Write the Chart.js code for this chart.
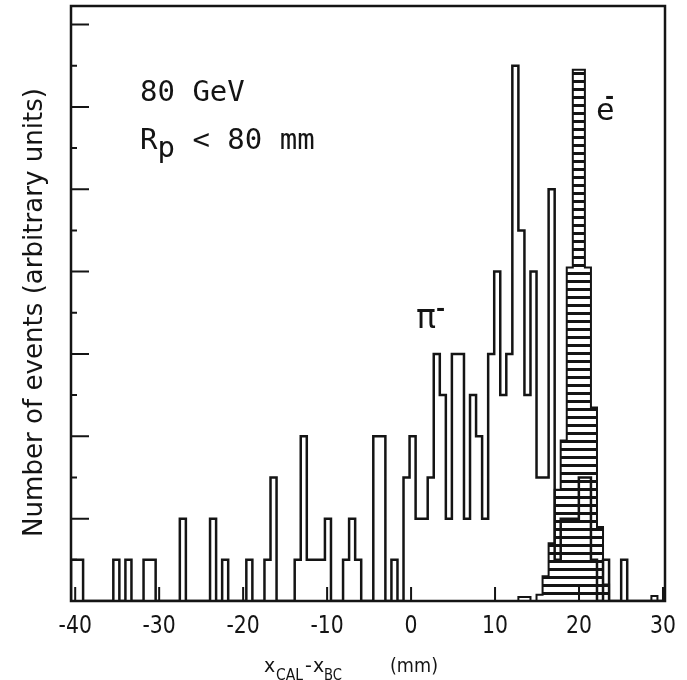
<!DOCTYPE html>
<html>
<head>
<meta charset="utf-8">
<script src="https://cdn.jsdelivr.net/npm/chart.js@4.4.0/dist/chart.umd.min.js"></script>
<style>
  html, body { margin: 0; padding: 0; background: #fff; }
  canvas { display: block; }
</style>
</head>
<body>
<canvas id="posChart" width="687" height="680"></canvas>
<script>
// histogram binning along x_CAL - x_BC (mm)
const binStart = -40.5;
const binWidth = 0.72;

// pi- events per bin
const piCounts = [
  1, 1, 0, 0, 0, 0, 0, 1, 0, 1,
  0, 0, 1, 1, 0, 0, 0, 0, 2, 0,
  0, 0, 0, 2, 0, 1, 0, 0, 0, 1,
  0, 0, 1, 3, 0, 0, 0, 1, 4, 1,
  1, 1, 2, 0, 0, 1, 2, 1, 0, 0,
  4, 4, 0, 1, 0, 3, 4, 2, 2, 3,
  6, 5, 2, 6, 6, 2, 5, 4, 2, 6,
  8, 5, 6, 13, 9, 5, 8, 3, 3, 10,
  1, 2, 2, 2, 3, 3, 1, 0, 1, 0,
  0, 1, 0, 0, 0, 0, 0, 0
];

// e- events per bin (same binning)
const eCounts = [
  0, 0, 0, 0, 0, 0, 0, 0, 0, 0,
  0, 0, 0, 0, 0, 0, 0, 0, 0, 0,
  0, 0, 0, 0, 0, 0, 0, 0, 0, 0,
  0, 0, 0, 0, 0, 0, 0, 0, 0, 0,
  0, 0, 0, 0, 0, 0, 0, 0, 0, 0,
  0, 0, 0, 0, 0, 0, 0, 0, 0, 0,
  0, 0, 0, 0, 0, 0, 0, 0, 0, 0,
  0, 0, 0, 0, 0.1, 0.1, 0, 0.15, 0.6, 1.4,
  2.7, 3.9, 8.1, 12.9, 12.9, 8.1, 4.7, 1.8, 0.4, 0,
  0, 0, 0, 0, 0, 0, 0.12, 0
];

const xTicks = [-40, -30, -20, -10, 0, 10, 20, 30];
const yMajor = [2, 4, 6, 8, 10, 12, 14];
const yMinor = [1, 3, 5, 7, 9, 11, 13];

const ink = '#141414';

// outline points for a stepped histogram: left edge of every bin, closed at both ends
function histPoints(counts) {
  const pts = [{ x: binStart, y: 0 }];
  counts.forEach((c, i) => pts.push({ x: binStart + i * binWidth, y: c }));
  pts.push({ x: binStart + counts.length * binWidth, y: 0 });
  return pts;
}

// horizontal hatching for the electron histogram
function hatch(ctx) {
  const c = document.createElement('canvas');
  c.width = 8; c.height = 8;
  const g = c.getContext('2d');
  g.fillStyle = ink;
  g.fillRect(0, 0, 8, 3);
  return ctx.createPattern(c, 'repeat');
}

function text(ctx, s, x, y, font, opts = {}) {
  ctx.font = font;
  const w = ctx.measureText(s).width;
  const sx = opts.width ? opts.width / w : (opts.sx || 1);
  ctx.save();
  ctx.translate(x, y);
  if (opts.rotate) ctx.rotate(opts.rotate);
  ctx.scale(sx, 1);
  ctx.textAlign = opts.align || 'left';
  ctx.textBaseline = 'alphabetic';
  ctx.fillStyle = ink;
  ctx.fillText(s, 0, 0);
  ctx.restore();
}

const frame = {
  id: 'frame',
  afterDraw(chart) {
    const { ctx, chartArea: a, scales: { x, y } } = chart;
    ctx.save();
    ctx.strokeStyle = ink;
    ctx.lineWidth = 2.5;
    ctx.strokeRect(a.left, a.top, a.right - a.left, a.bottom - a.top);

    // inward tick marks
    ctx.lineWidth = 2;
    ctx.beginPath();
    xTicks.forEach(v => {
      const px = x.getPixelForValue(v);
      ctx.moveTo(px, a.bottom); ctx.lineTo(px, a.bottom - 14);
    });
    yMajor.forEach(v => {
      const py = y.getPixelForValue(v);
      ctx.moveTo(a.left, py); ctx.lineTo(a.left + 18, py);
    });
    yMinor.forEach(v => {
      const py = y.getPixelForValue(v);
      ctx.moveTo(a.left, py); ctx.lineTo(a.left + 6, py);
    });
    ctx.stroke();

    // tick labels
    xTicks.forEach(v => {
      text(ctx, String(v), x.getPixelForValue(v), 633, '24px "DejaVu Sans"', { sx: 0.85, align: 'center' });
    });

    // axis titles
    text(ctx, 'Number of events (arbitrary units)', 41.5, 312.5, '26px "DejaVu Sans"',
      { width: 449, align: 'center', rotate: -Math.PI / 2 });
    const f = '19px "DejaVu Sans"', sub = '16px "DejaVu Sans"';
    text(ctx, 'x', 264, 671.5, f);
    text(ctx, 'CAL', 276, 679.5, sub, { width: 27 });
    text(ctx, '-', 305, 671.5, f);
    text(ctx, 'x', 313, 671.5, f);
    text(ctx, 'BC', 324, 679.5, sub, { width: 18 });
    text(ctx, '(mm)', 390, 671.5, f, { width: 48 });

    // run conditions
    const mono = '29px "DejaVu Sans Mono"';
    ctx.font = mono;
    const adv = ctx.measureText('R').width;
    text(ctx, '80 GeV', 140, 101, mono);
    text(ctx, 'R', 140, 148.5, mono);
    text(ctx, 'p', 140 + adv, 157, mono);
    text(ctx, '< 80 mm', 140 + 3 * adv, 148.5, mono);

    // particle labels
    const minus = 'bold 22px "DejaVu Sans"';
    text(ctx, 'π', 416, 328, '33px "DejaVu Sans Mono"');
    text(ctx, '-', 436, 316, minus);
    text(ctx, 'e', 596, 120, '31px "DejaVu Sans Mono"');
    text(ctx, '-', 605, 104, minus);
    ctx.restore();
  }
};

const ctx = document.getElementById('posChart').getContext('2d');

new Chart(ctx, {
  type: 'line',
  data: {
    datasets: [
      {
        label: 'π-',
        data: histPoints(piCounts),
        stepped: true,
        borderColor: ink,
        borderWidth: 2.5,
        fill: false,
        order: 0
      },
      {
        label: 'e-',
        data: histPoints(eCounts),
        stepped: true,
        borderColor: ink,
        borderWidth: 2,
        backgroundColor: hatch(ctx),
        fill: 'origin',
        order: 1
      }
    ]
  },
  options: {
    responsive: false,
    animation: false,
    devicePixelRatio: 1,
    layout: { padding: { left: 71, right: 22, top: 6, bottom: 79 } },
    elements: { point: { radius: 0 }, line: { tension: 0 } },
    plugins: { legend: { display: false }, tooltip: { enabled: false } },
    scales: {
      x: { type: 'linear', min: -40.5, max: 30.24, display: false },
      y: { min: 0, max: 14.45, display: false }
    }
  },
  plugins: [frame]
});
</script>
</body>
</html>
